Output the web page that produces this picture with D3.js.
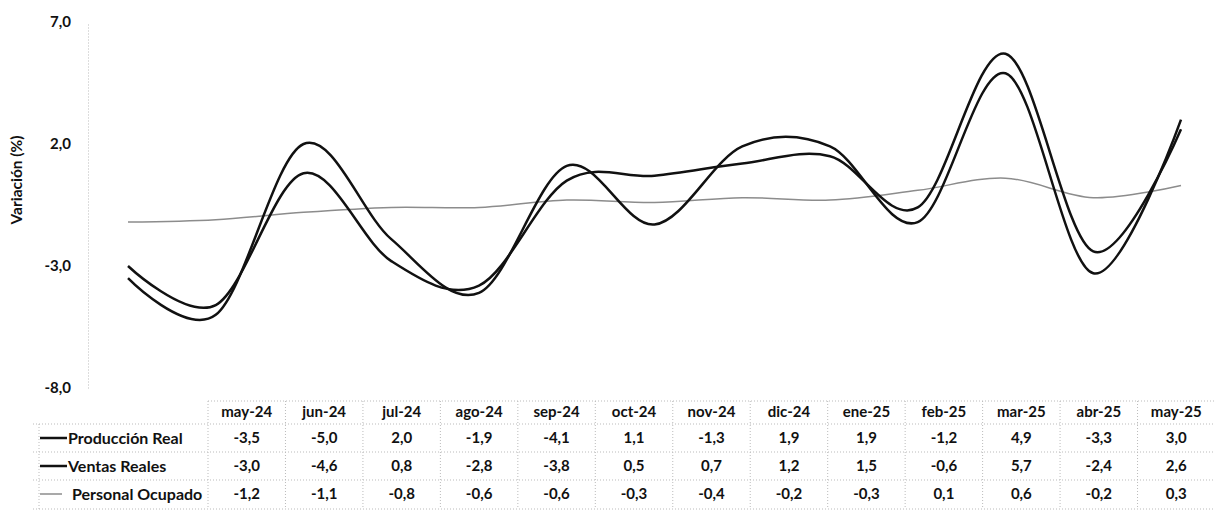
<!DOCTYPE html>
<html>
<head>
<meta charset="utf-8">
<script src="https://cdn.jsdelivr.net/npm/d3@7"></script>
<style>
  body { margin: 0; background: #fff; }
  svg text { font-family: Lato, "Open Sans", sans-serif; font-weight: 700; fill: #111; }
</style>
</head>
<body>
<div id="chart"></div>
<script>
// data
var months = ["may-24", "jun-24", "jul-24", "ago-24", "sep-24", "oct-24", "nov-24",
              "dic-24", "ene-25", "feb-25", "mar-25", "abr-25", "may-25"];
var produccionReal = [-3.5, -5.0, 2.0, -1.9, -4.1, 1.1, -1.3, 1.9, 1.9, -1.2, 4.9, -3.3, 3.0];
var ventasReales = [-3.0, -4.6, 0.8, -2.8, -3.8, 0.5, 0.7, 1.2, 1.5, -0.6, 5.7, -2.4, 2.6];
var personalOcupado = [-1.2, -1.1, -0.8, -0.6, -0.6, -0.3, -0.4, -0.2, -0.3, 0.1, 0.6, -0.2, 0.3];
var yTicks = [7, 2, -3, -8];

var width = 1215, height = 516;

var svg = d3.select("#chart").append("svg")
  .attr("width", width)
  .attr("height", height);

var locale = d3.formatLocale({decimal: ",", thousands: ".", grouping: [3], currency: ["", ""], minus: "-"});
var fmt = locale.format(".1f");

// scales
var x = d3.scalePoint().domain(months).range([128, 1181]);
var y = d3.scaleLinear().domain([-8, 7]).range([388, 22]);
var col = d3.scaleBand().domain(months).range([208, 1215]);

// y axis
var yAxis = svg.append("g")
  .attr("transform", "translate(88,0)")
  .call(d3.axisLeft(y).tickValues(yTicks).tickSize(0).tickPadding(17).tickFormat(fmt));
yAxis.select(".domain")
  .attr("stroke", "#bbb")
  .attr("stroke-dasharray", "1,2");
yAxis.selectAll("text")
  .style("font-size", "15px");

svg.append("text")
  .attr("transform", "translate(22,180) rotate(-90)")
  .attr("text-anchor", "middle")
  .style("font-size", "15.5px")
  .text("Variación (%)");

// series
var series = [
  {name: "Producción Real", values: produccionReal, color: "#111", width: 2.5},
  {name: "Ventas Reales", values: ventasReales, color: "#111", width: 2.5},
  {name: "Personal Ocupado", values: personalOcupado, color: "#8c8c8c", width: 1.5}
];

var line = d3.line()
  .x(function(d, i) { return x(months[i]); })
  .y(function(d) { return y(d); })
  .curve(d3.curveCatmullRom.alpha(0));

svg.selectAll(".serie")
  .data(series.slice().reverse())
  .enter()
  .append("path")
  .attr("class", "serie")
  .attr("fill", "none")
  .attr("stroke", function(d) { return d.color; })
  .attr("stroke-width", function(d) { return d.width; })
  .attr("stroke-linejoin", "round")
  .attr("d", function(d) { return line(d.values); });

// data table
var rowLines = [401, 424, 452, 480, 509];
var rowMid = [438, 466, 494];
var grid = svg.append("g")
  .attr("stroke", "#bbb")
  .attr("stroke-dasharray", "1,2")
  .attr("stroke-width", 1);

grid.append("line")
  .attr("x1", 208).attr("x2", 1215)
  .attr("y1", rowLines[0]).attr("y2", rowLines[0]);

grid.selectAll(".hline")
  .data(rowLines.slice(1))
  .enter()
  .append("line")
  .attr("x1", 33).attr("x2", 1215)
  .attr("y1", function(d) { return d; })
  .attr("y2", function(d) { return d; });

grid.selectAll(".vline")
  .data(months)
  .enter()
  .append("line")
  .attr("x1", function(d) { return col(d); })
  .attr("x2", function(d) { return col(d); })
  .attr("y1", rowLines[0])
  .attr("y2", rowLines[4]);

grid.append("line")
  .attr("x1", 39).attr("x2", 39)
  .attr("y1", rowLines[1]).attr("y2", rowLines[4]);

svg.selectAll(".month")
  .data(months)
  .enter()
  .append("text")
  .attr("x", function(d) { return col(d) + col.bandwidth() / 2; })
  .attr("y", 412)
  .attr("dy", "0.35em")
  .attr("text-anchor", "middle")
  .style("font-size", "15px")
  .text(function(d) { return d; });

series.forEach(function(s, r) {
  var g = svg.append("g");
  g.append("line")
    .attr("x1", 40).attr("x2", r == 2 ? 62 : 67)
    .attr("y1", rowMid[r]).attr("y2", rowMid[r])
    .attr("stroke", s.color)
    .attr("stroke-width", s.width);
  g.append("text")
    .attr("x", r == 2 ? 72 : 68)
    .attr("y", rowMid[r])
    .attr("dy", "0.35em")
    .style("font-size", "16px")
    .text(s.name);
  g.selectAll(".val")
    .data(s.values)
    .enter()
    .append("text")
    .attr("x", function(d, i) { return col(months[i]) + col.bandwidth() / 2; })
    .attr("y", rowMid[r])
    .attr("dy", "0.35em")
    .attr("text-anchor", "middle")
    .style("font-size", "15px")
    .text(function(d) { return fmt(d); });
});
</script>
</body>
</html>
